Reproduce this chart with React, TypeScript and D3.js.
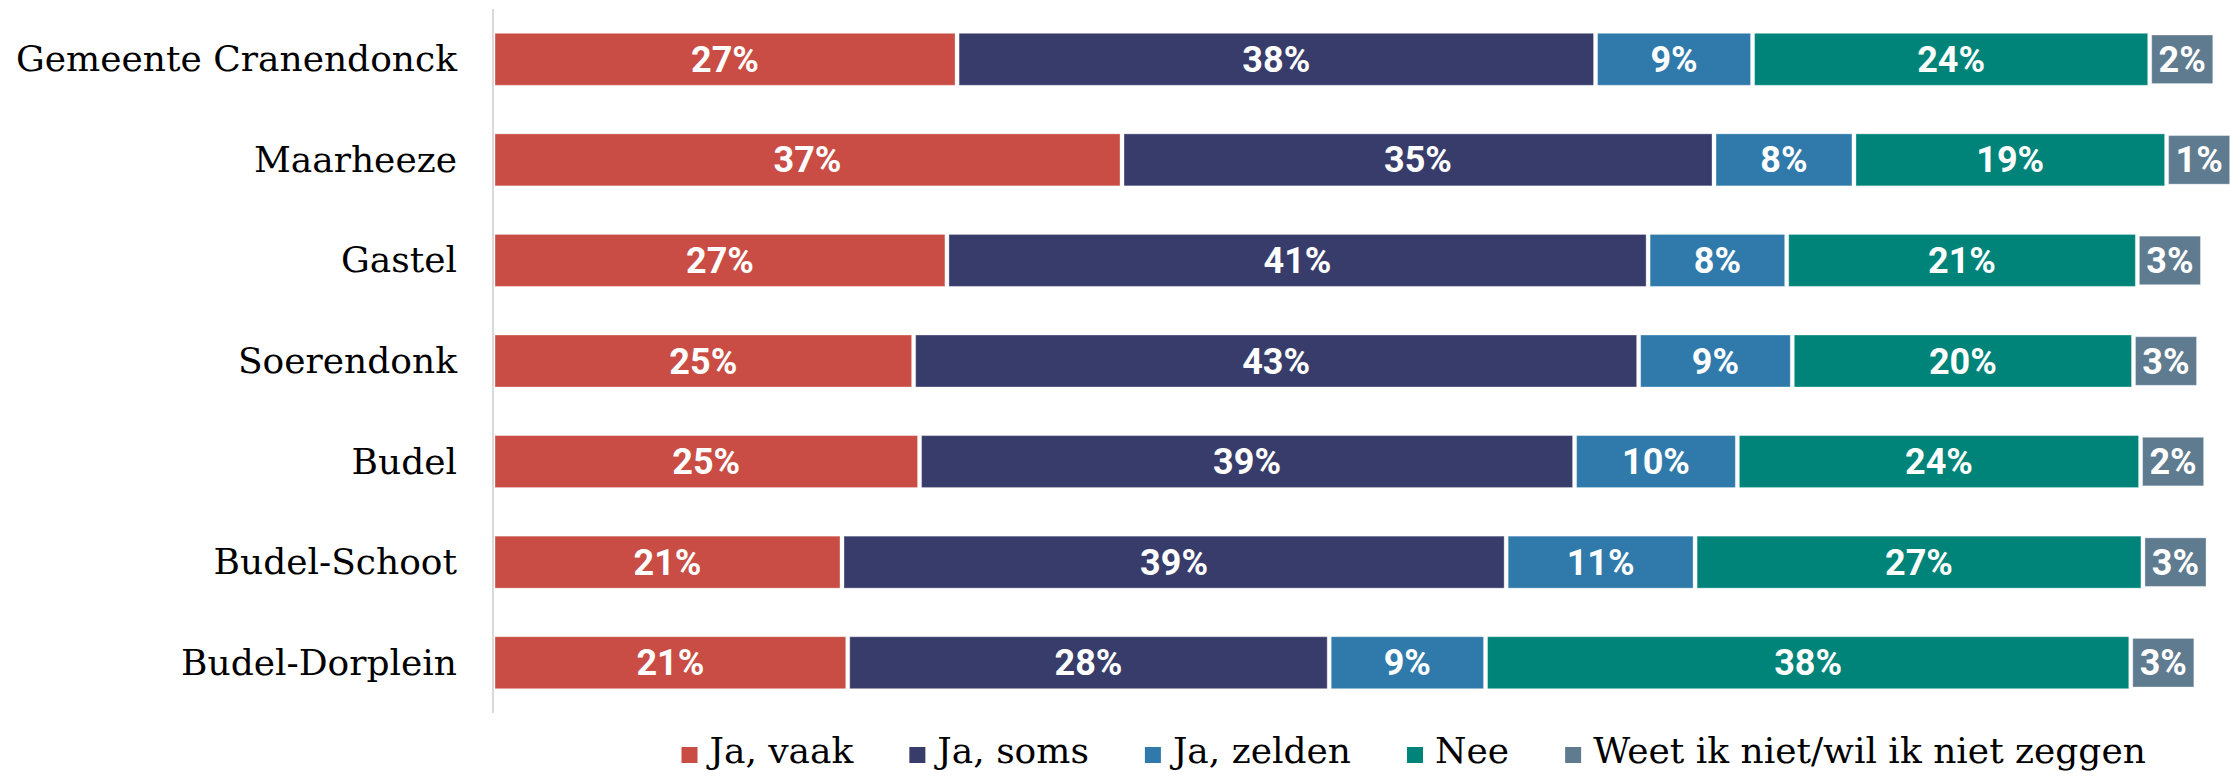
import React, { useRef, useEffect } from 'react';
import * as d3 from 'd3';

// categories (top to bottom)
const categories = [
  'Gemeente Cranendonck',
  'Maarheeze',
  'Gastel',
  'Soerendonk',
  'Budel',
  'Budel-Schoot',
  'Budel-Dorplein',
];

const seriesNames = ['Ja, vaak', 'Ja, soms', 'Ja, zelden', 'Nee', 'Weet ik niet/wil ik niet zeggen'];
const seriesKeys = ['vaak', 'soms', 'zelden', 'nee', 'weet'];
const seriesColors = ['#c94d44', '#383c6a', '#2f7aab', '#00847a', '#5f7b90'];

// percentages per category
const jaVaak = [27.46, 37.22, 26.86, 24.89, 25.24, 20.65, 20.99];
const jaSoms = [37.78, 35.03, 41.49, 42.9, 38.76, 39.3, 28.49];
const jaZelden = [9.29, 8.28, 8.2, 9.09, 9.63, 11.18, 9.25];
const nee = [23.5, 18.5, 20.75, 20.19, 23.86, 26.5, 38.18];
const weetNiet = [2, 1, 3, 3, 2, 3, 3];

const W = 2239;
const H = 776;

const App = () => {
  const svgRef = useRef<SVGSVGElement>(null);

  useEffect(() => {
    document.body.style.margin = '0';
    const svg = d3.select(svgRef.current);
    svg.selectAll('*').remove();

    const table = categories.map((c, i) => ({
      cat: c,
      vaak: jaVaak[i],
      soms: jaSoms[i],
      zelden: jaZelden[i],
      nee: nee[i],
      weet: weetNiet[i],
    }));

    const x = d3.scaleLinear().domain([0, 100]).range([493, 2183]);
    const y = d3.scaleBand().domain(categories).range([9, 713]).paddingInner(0.483).paddingOuter(0.2415);
    const gap = 2; // white gap on each side of a segment
    const minLast = 3.85; // small last segment gets a minimum width for its label

    const stacked = d3.stack<any>().keys(seriesKeys)(table);

    // axis line
    svg.append('line')
      .attr('x1', x(0)).attr('x2', x(0))
      .attr('y1', 9).attr('y2', 713)
      .attr('stroke', '#d9d9d9')
      .attr('stroke-width', 2);

    stacked.forEach((layer, si) => {
      const g = svg.append('g');
      const isLast = si === seriesKeys.length - 1;
      layer.forEach((d) => {
        const cat = d.data.cat;
        const v = d[1] - d[0];
        const x0 = x(d[0]) + gap;
        const x1 = (isLast ? x(d[0] + Math.max(v, minLast)) : x(d[1])) - gap;
        const inset = isLast ? 1.7 : 0;
        const by = y(cat)! + inset;
        const bh = y.bandwidth() - inset * 2;
        g.append('rect')
          .attr('x', x0)
          .attr('y', by)
          .attr('width', x1 - x0)
          .attr('height', bh)
          .attr('fill', seriesColors[si])
          .attr('stroke', '#ffffff')
          .attr('stroke-opacity', 0.35)
          .attr('stroke-width', 1);
        g.append('text')
          .attr('x', (x0 + x1) / 2)
          .attr('y', y(cat)! + y.bandwidth() / 2 + 12.5)
          .attr('text-anchor', 'middle')
          .attr('fill', '#ffffff')
          .style('font-family', 'Roboto, sans-serif')
          .style('font-weight', '700')
          .style('font-size', '36px')
          .text(`${Math.round(v)}%`);
      });
    });

    // category labels
    svg.append('g')
      .selectAll('text')
      .data(categories)
      .enter()
      .append('text')
      .attr('x', 457)
      .attr('y', (d) => y(d)! + y.bandwidth() / 2 + 12)
      .attr('text-anchor', 'end')
      .attr('fill', '#000')
      .style('font-family', '"DejaVu Serif", serif')
      .style('font-size', '36px')
      .text((d) => d);

    // legend
    const legend = svg.append('g');
    let lx = 681.5;
    seriesNames.forEach((name, i) => {
      legend.append('rect')
        .attr('x', lx)
        .attr('y', 747)
        .attr('width', 16)
        .attr('height', 16)
        .attr('fill', seriesColors[i]);
      const t = legend.append('text')
        .attr('x', lx + 28)
        .attr('y', 763)
        .attr('fill', '#000')
        .style('font-family', '"DejaVu Serif", serif')
        .style('font-size', '36px')
        .text(name);
      const tw = (t.node() as SVGTextElement).getComputedTextLength();
      lx = lx + 28 + tw + 56;
    });
  }, []);

  return <svg ref={svgRef} width={W} height={H} style={{ display: 'block' }}></svg>;
};

export default App;
